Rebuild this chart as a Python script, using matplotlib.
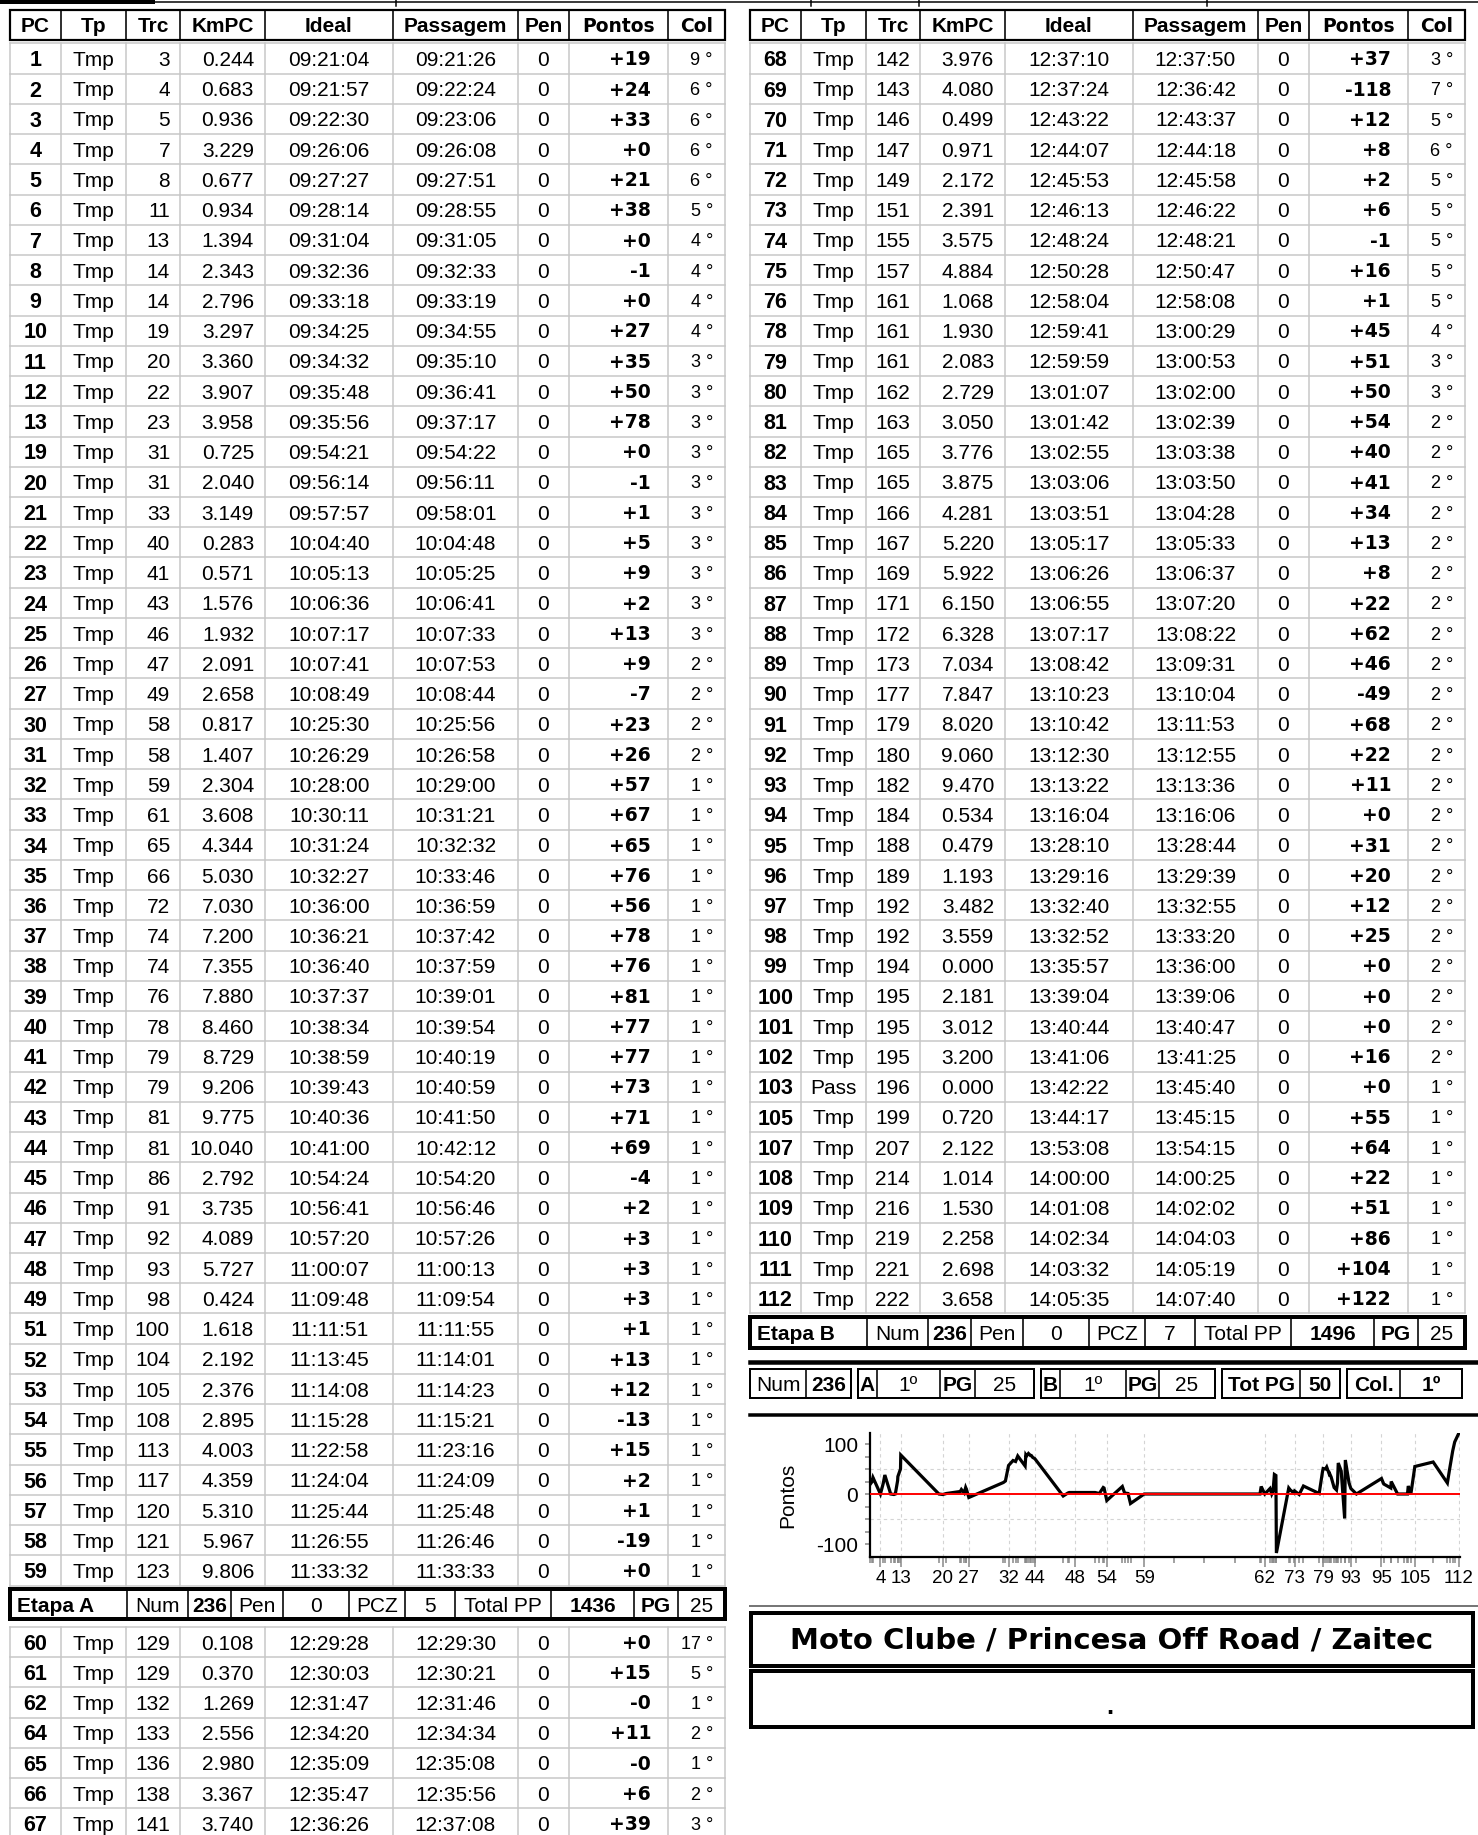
import matplotlib
matplotlib.use('Agg')
import matplotlib.pyplot as plt
from matplotlib import patches, font_manager

plt.rcParams['font.family'] = ['Liberation Sans', 'DejaVu Sans']
_names = {f.name for f in font_manager.fontManager.ttflist}
NARROW = 'Liberation Sans Narrow' if 'Liberation Sans Narrow' in _names else 'Liberation Sans'

# ---- data (all PC rows in the order they are printed) ----
pc = [1, 2, 3, 4, 5, 6, 7, 8, 9, 10, 11, 12, 13, 19, 20, 21, 22, 23, 24, 25, 26, 27,
      30, 31, 32, 33, 34, 35, 36, 37, 38, 39, 40, 41, 42, 43, 44, 45, 46, 47, 48, 49,
      51, 52, 53, 54, 55, 56, 57, 58, 59,
      60, 61, 62, 64, 65, 66, 67,
      68, 69, 70, 71, 72, 73, 74, 75, 76, 78, 79, 80, 81, 82, 83, 84, 85, 86, 87, 88,
      89, 90, 91, 92, 93, 94, 95, 96, 97, 98, 99, 100, 101, 102, 103, 105, 107, 108,
      109, 110, 111, 112]
tp = ['Tmp'] * 92 + ['Pass'] + ['Tmp'] * 7
trc = [3, 4, 5, 7, 8, 11, 13, 14, 14, 19, 20, 22, 23, 31, 31, 33, 40, 41, 43, 46, 47, 49,
       58, 58, 59, 61, 65, 66, 72, 74, 74, 76, 78, 79, 79, 81, 81, 86, 91, 92, 93, 98,
       100, 104, 105, 108, 113, 117, 120, 121, 123,
       129, 129, 132, 133, 136, 138, 141,
       142, 143, 146, 147, 149, 151, 155, 157, 161, 161, 161, 162, 163, 165, 165, 166,
       167, 169, 171, 172, 173, 177, 179, 180, 182, 184, 188, 189, 192, 192, 194, 195,
       195, 195, 196, 199, 207, 214, 216, 219, 221, 222]
kmpc = ['0.244', '0.683', '0.936', '3.229', '0.677', '0.934', '1.394', '2.343', '2.796',
        '3.297', '3.360', '3.907', '3.958', '0.725', '2.040', '3.149', '0.283', '0.571',
        '1.576', '1.932', '2.091', '2.658', '0.817', '1.407', '2.304', '3.608', '4.344',
        '5.030', '7.030', '7.200', '7.355', '7.880', '8.460', '8.729', '9.206', '9.775',
        '10.040', '2.792', '3.735', '4.089', '5.727', '0.424', '1.618', '2.192', '2.376',
        '2.895', '4.003', '4.359', '5.310', '5.967', '9.806',
        '0.108', '0.370', '1.269', '2.556', '2.980', '3.367', '3.740',
        '3.976', '4.080', '0.499', '0.971', '2.172', '2.391', '3.575', '4.884', '1.068',
        '1.930', '2.083', '2.729', '3.050', '3.776', '3.875', '4.281', '5.220', '5.922',
        '6.150', '6.328', '7.034', '7.847', '8.020', '9.060', '9.470', '0.534', '0.479',
        '1.193', '3.482', '3.559', '0.000', '2.181', '3.012', '3.200', '0.000', '0.720',
        '2.122', '1.014', '1.530', '2.258', '2.698', '3.658']
ideal = ['09:21:04', '09:21:57', '09:22:30', '09:26:06', '09:27:27', '09:28:14', '09:31:04',
         '09:32:36', '09:33:18', '09:34:25', '09:34:32', '09:35:48', '09:35:56', '09:54:21',
         '09:56:14', '09:57:57', '10:04:40', '10:05:13', '10:06:36', '10:07:17', '10:07:41',
         '10:08:49', '10:25:30', '10:26:29', '10:28:00', '10:30:11', '10:31:24', '10:32:27',
         '10:36:00', '10:36:21', '10:36:40', '10:37:37', '10:38:34', '10:38:59', '10:39:43',
         '10:40:36', '10:41:00', '10:54:24', '10:56:41', '10:57:20', '11:00:07', '11:09:48',
         '11:11:51', '11:13:45', '11:14:08', '11:15:28', '11:22:58', '11:24:04', '11:25:44',
         '11:26:55', '11:33:32',
         '12:29:28', '12:30:03', '12:31:47', '12:34:20', '12:35:09', '12:35:47', '12:36:26',
         '12:37:10', '12:37:24', '12:43:22', '12:44:07', '12:45:53', '12:46:13', '12:48:24',
         '12:50:28', '12:58:04', '12:59:41', '12:59:59', '13:01:07', '13:01:42', '13:02:55',
         '13:03:06', '13:03:51', '13:05:17', '13:06:26', '13:06:55', '13:07:17', '13:08:42',
         '13:10:23', '13:10:42', '13:12:30', '13:13:22', '13:16:04', '13:28:10', '13:29:16',
         '13:32:40', '13:32:52', '13:35:57', '13:39:04', '13:40:44', '13:41:06', '13:42:22',
         '13:44:17', '13:53:08', '14:00:00', '14:01:08', '14:02:34', '14:03:32', '14:05:35']
passagem = ['09:21:26', '09:22:24', '09:23:06', '09:26:08', '09:27:51', '09:28:55', '09:31:05',
            '09:32:33', '09:33:19', '09:34:55', '09:35:10', '09:36:41', '09:37:17', '09:54:22',
            '09:56:11', '09:58:01', '10:04:48', '10:05:25', '10:06:41', '10:07:33', '10:07:53',
            '10:08:44', '10:25:56', '10:26:58', '10:29:00', '10:31:21', '10:32:32', '10:33:46',
            '10:36:59', '10:37:42', '10:37:59', '10:39:01', '10:39:54', '10:40:19', '10:40:59',
            '10:41:50', '10:42:12', '10:54:20', '10:56:46', '10:57:26', '11:00:13', '11:09:54',
            '11:11:55', '11:14:01', '11:14:23', '11:15:21', '11:23:16', '11:24:09', '11:25:48',
            '11:26:46', '11:33:33',
            '12:29:30', '12:30:21', '12:31:46', '12:34:34', '12:35:08', '12:35:56', '12:37:08',
            '12:37:50', '12:36:42', '12:43:37', '12:44:18', '12:45:58', '12:46:22', '12:48:21',
            '12:50:47', '12:58:08', '13:00:29', '13:00:53', '13:02:00', '13:02:39', '13:03:38',
            '13:03:50', '13:04:28', '13:05:33', '13:06:37', '13:07:20', '13:08:22', '13:09:31',
            '13:10:04', '13:11:53', '13:12:55', '13:13:36', '13:16:06', '13:28:44', '13:29:39',
            '13:32:55', '13:33:20', '13:36:00', '13:39:06', '13:40:47', '13:41:25', '13:45:40',
            '13:45:15', '13:54:15', '14:00:25', '14:02:02', '14:04:03', '14:05:19', '14:07:40']
pen = [0] * 100
pontos = ['+19', '+24', '+33', '+0', '+21', '+38', '+0', '-1', '+0', '+27', '+35', '+50',
          '+78', '+0', '-1', '+1', '+5', '+9', '+2', '+13', '+9', '-7', '+23', '+26', '+57',
          '+67', '+65', '+76', '+56', '+78', '+76', '+81', '+77', '+77', '+73', '+71', '+69',
          '-4', '+2', '+3', '+3', '+3', '+1', '+13', '+12', '-13', '+15', '+2', '+1', '-19',
          '+0',
          '+0', '+15', '-0', '+11', '-0', '+6', '+39',
          '+37', '-118', '+12', '+8', '+2', '+6', '-1', '+16', '+1', '+45', '+51', '+50',
          '+54', '+40', '+41', '+34', '+13', '+8', '+22', '+62', '+46', '-49', '+68', '+22',
          '+11', '+0', '+31', '+20', '+12', '+25', '+0', '+0', '+0', '+16', '+0', '+55',
          '+64', '+22', '+51', '+86', '+104', '+122']
col = [9, 6, 6, 6, 6, 5, 4, 4, 4, 4, 3, 3, 3, 3, 3, 3, 3, 3, 3, 3, 2, 2, 2, 2, 1, 1, 1,
       1, 1, 1, 1, 1, 1, 1, 1, 1, 1, 1, 1, 1, 1, 1, 1, 1, 1, 1, 1, 1, 1, 1, 1,
       17, 5, 1, 2, 1, 2, 3,
       3, 7, 5, 6, 5, 5, 5, 5, 5, 4, 3, 3, 2, 2, 2, 2, 2, 2, 2, 2, 2, 2, 2, 2, 2, 2,
       2, 2, 2, 2, 2, 2, 2, 2, 1, 1, 1, 1, 1, 1, 1, 1]

headers = ['PC', 'Tp', 'Trc', 'KmPC', 'Ideal', 'Passagem', 'Pen', 'Pontos', 'Col']

etapa_a = ['Etapa A', 'Num', '236', 'Pen', '0', 'PCZ', '5', 'Total PP', '1436', 'PG', '25']
etapa_b = ['Etapa B', 'Num', '236', 'Pen', '0', 'PCZ', '7', 'Total PP', '1496', 'PG', '25']
etapa_bold = [1, 0, 1, 0, 0, 0, 0, 0, 1, 1, 0]

resumo = [(['Num', '236'], [0, 1]),
          (['A', '1º', 'PG', '25'], [1, 0, 1, 0]),
          (['B', '1º', 'PG', '25'], [1, 0, 1, 0]),
          (['Tot PG', '50'], [1, 1]),
          (['Col.', '1º'], [1, 1])]

titulo = 'Moto Clube / Princesa Off Road / Zaitec'
subtitulo = '.'

label_pcs = [4, 13, 20, 27, 32, 44, 48, 54, 59, 62, 73, 79, 93, 95, 105, 112]
gap_ticks = ['11:48:00', '12:02:30', '12:17:30']

# ---- layout ----
W, H = 1478, 1835
PX = 0.72          # points per pixel at dpi 100
FS = 15
GRID = '#c6c6c6'
PITCH = 30.24
COLS = [10, 61, 126, 180, 265, 393, 518, 569, 668, 725]
ETAPA = [10, 127, 188, 231, 283, 349, 405, 455, 551, 634, 678, 725]
WIDE = ['DejaVu Sans']

fig = plt.figure(figsize=(W / 100, H / 100), dpi=100)
ax = fig.add_axes([0, 0, 1, 1])
ax.set_xlim(0, W)
ax.set_ylim(H, 0)
ax.axis('off')


def hline(x0, x1, y, lw, color='black'):
    ax.plot([x0, x1], [y, y], color=color, lw=lw * PX, solid_capstyle='projecting')


def vline(x, y0, y1, lw, color='black'):
    ax.plot([x, x], [y0, y1], color=color, lw=lw * PX, solid_capstyle='projecting')


def txt(x, yc, s, ha='center', bold=False, size=FS, family=None):
    # baseline placed so the cap height is centred on yc
    kw = {}
    if family:
        kw['family'] = family
    ax.text(x, yc + 0.36 * size / PX, s, ha=ha, va='baseline', fontsize=size,
            fontweight='bold' if bold else 'normal', **kw)


def header(dx):
    c = [v + dx for v in COLS]
    top, bot = 10, 40
    ax.add_patch(patches.Rectangle((c[0], top), c[-1] - c[0], bot - top, fill=False,
                                   ec='black', lw=2.2 * PX))
    for v in c[1:-1]:
        vline(v, top, bot, 1.6)
    for i, h in enumerate(headers):
        fam = WIDE if h in ('Pontos', 'Col') else None
        size = 13.5 if fam else FS
        txt((c[i] + c[i + 1]) / 2, (top + bot) / 2, h, bold=True, size=size, family=fam)


def rows(dx, y_top, idx, pitch=PITCH):
    c = [v + dx for v in COLS]
    n = len(idx)
    for k in range(n + 1):
        hline(c[0], c[-1], y_top + k * pitch, 1.5, GRID)
    for v in c:
        vline(v, y_top, y_top + n * pitch, 1.5, GRID)
    for k, i in enumerate(idx):
        yc = y_top + (k + 0.5) * pitch
        txt((c[0] + c[1]) / 2, yc, str(pc[i]), bold=True, size=15.5)
        txt((c[1] + c[2]) / 2, yc, tp[i])
        txt(c[3] - 10, yc, str(trc[i]), ha='right')
        txt(c[4] - 11, yc, kmpc[i], ha='right')
        txt((c[4] + c[5]) / 2, yc, ideal[i])
        txt((c[5] + c[6]) / 2, yc, passagem[i])
        txt((c[6] + c[7]) / 2, yc, str(pen[i]))
        txt(c[8] - 17, yc, pontos[i], ha='right', bold=True, size=13.5, family=WIDE)
        txt(c[9] - 12, yc, f'{col[i]} °', ha='right', size=13)


def etapa(dx, y0, y1, vals):
    e = [v + dx for v in ETAPA]
    ax.add_patch(patches.Rectangle((e[0], y0), e[-1] - e[0], y1 - y0, fill=False,
                                   ec='black', lw=4 * PX))
    for v in e[1:-1]:
        vline(v, y0, y1, 1.6)
    yc = (y0 + y1) / 2
    for i, s in enumerate(vals):
        if i == 0:
            txt(e[0] + 7, yc, s, ha='left', bold=True)
        else:
            txt((e[i] + e[i + 1]) / 2, yc, s, bold=bool(etapa_bold[i]))


# top remnants of the cropped block above
ax.add_patch(patches.Rectangle((0, 0), 155, 4, color='black', lw=0))
hline(0, W, 2.5, 1.5)
for v in [396, 811, 919, 1207]:
    vline(v, 0, 6, 1.5)

n_left, n_low = 51, 7
left_idx = list(range(n_left))
low_idx = list(range(n_left, n_left + n_low))
right_idx = list(range(n_left + n_low, len(pc)))

header(0)
header(740)
rows(0, 43.4, left_idx)
rows(740, 43.4, right_idx)
etapa(0, 1589, 1619, etapa_a)
rows(0, 1627, low_idx, pitch=30.2)
etapa(740, 1317, 1348, etapa_b)

# summary line
hline(750, W, 1362, 4.5)
group_edges = [[750, 806, 851], [858, 877, 940, 975, 1034], [1041, 1060, 1126, 1159, 1215],
               [1222, 1300, 1340], [1347, 1400, 1462]]
s0, s1 = 1369, 1398
for edges, (labels, bolds) in zip(group_edges, resumo):
    ax.add_patch(patches.Rectangle((edges[0], s0), edges[-1] - edges[0], s1 - s0,
                                   fill=False, ec='black', lw=2 * PX))
    for v in edges[1:-1]:
        vline(v, s0, s1, 1.6)
    for j, s in enumerate(labels):
        txt((edges[j] + edges[j + 1]) / 2, (s0 + s1) / 2, s, bold=bool(bolds[j]))
hline(750, W, 1415, 3.5)
hline(750, W, 1606, 2, '#777777')

# title boxes
ax.add_patch(patches.Rectangle((751, 1613), 722, 53, fill=False, ec='black', lw=4 * PX))
ax.add_patch(patches.Rectangle((751, 1671), 722, 56, fill=False, ec='black', lw=4 * PX))
ax.text(1112, 1640, titulo, ha='center', va='center', fontsize=21, fontweight='bold',
        family=WIDE)
ax.text(1110, 1707, subtitulo, ha='center', va='center', fontsize=18, fontweight='bold')

# ---- chart of Pontos against ideal time ----
def minutes(t):
    h, m, s = (int(v) for v in t.split(':'))
    return h * 60 + m + s / 60


xs = [minutes(t) for t in ideal]
ys = [float(p) for p in pontos]

cax = fig.add_axes([870 / W, 1 - 1557 / H, 590 / W, 124 / H])
cax.plot(xs, ys, color='black', lw=2.3, zorder=3, solid_joinstyle='miter')
cax.axhline(0, color='red', lw=1.4, zorder=4)
for g in (-50, 50):
    cax.axhline(g, color='#d4d4d4', lw=0.8, ls=(0, (3, 3)), zorder=1)
cax.set_xlim(561.8, 846.1)
cax.set_ylim(-126, 122)

major = [xs[pc.index(p)] for p in label_pcs]
cax.set_xticks(major)
cax.set_xticklabels([str(p) for p in label_pcs], family=NARROW,
                    fontsize=15 if NARROW != 'Liberation Sans' else 13.5)
cax.set_xticks(sorted(set(xs) - set(major)) + [minutes(t) for t in gap_ticks], minor=True)
cax.grid(axis='x', which='major', color='#d4d4d4', lw=0.8, ls=(0, (3, 3)), zorder=1)
cax.tick_params(axis='x', which='major', length=7, width=1.1, color='#888888', pad=2.5)
cax.tick_params(axis='x', which='minor', length=4, width=1.1, color='#888888')

cax.set_yticks([-100, -50, 0, 50, 100])
cax.set_yticklabels(['-100', '', '0', '', '100'], fontsize=15)
cax.set_yticks([-75, -25, 25, 75], minor=True)
cax.tick_params(axis='y', which='both', length=3.5, width=1.1, color='#888888', pad=5)
cax.set_ylabel('Pontos', fontsize=15)
cax.yaxis.set_label_coords(-0.124, 0.5)

for side in ('top', 'right'):
    cax.spines[side].set_visible(False)
for side in ('left', 'bottom'):
    cax.spines[side].set_linewidth(1.6)
    cax.spines[side].set_color('black')
cax.set_facecolor('none')

fig.savefig('out.png', dpi=100)
